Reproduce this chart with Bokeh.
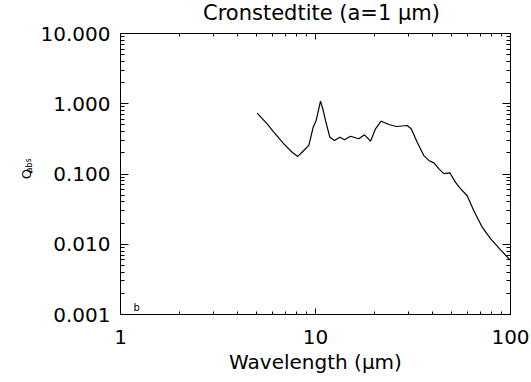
from bokeh.plotting import figure
from bokeh.models import (LogAxis, FixedTicker, Label, Range1d)
from bokeh.embed import file_html
from bokeh.resources import INLINE

# ---- data ----
wavelength = [5.02, 5.65, 6.11, 6.88, 7.59, 8.11, 8.71, 9.24, 9.45, 9.73, 10.08,
              10.35, 10.61, 10.9, 11.25, 11.84, 12.52, 13.32, 14.08, 15.12, 16.68,
              17.84, 19.15, 20.31, 21.73, 23.77, 26.03, 29.53, 30.96, 33.23, 35.93,
              38.11, 40.44, 42.88, 45.5, 48.84, 52.24, 55.4, 59.97, 64.85, 71.6,
              78.97, 88.9, 100.0]
qabs = [0.734, 0.518, 0.394, 0.269, 0.204, 0.178, 0.216, 0.255, 0.33, 0.464, 0.578,
        0.80, 1.087, 0.85, 0.578, 0.334, 0.300, 0.334, 0.307, 0.345, 0.317,
        0.361, 0.293, 0.440, 0.564, 0.507, 0.474, 0.490, 0.440, 0.284, 0.183,
        0.156, 0.144, 0.119, 0.101, 0.104, 0.076, 0.062, 0.049, 0.030, 0.0175,
        0.012, 0.0083, 0.0059]

x_ticks = [1, 10, 100]
x_tick_labels = ["1", "10", "100"]
x_minor = [2, 3, 4, 5, 6, 7, 8, 9, 20, 30, 40, 50, 60, 70, 80, 90]
y_ticks = [0.001, 0.01, 0.1, 1, 10]
y_tick_labels = ["0.001", "0.010", "0.100", "1.000", "10.000"]
y_minor = [m * d for d in [0.001, 0.01, 0.1, 1] for m in range(2, 10)]

title_text = "Cronstedtite (a=1 μm)"
x_label = "Wavelength (μm)"
y_label_main = "Q"
y_label_sub = "abs"
panel_letter = "b"

FONT = "DejaVu Sans"

p = figure(frame_width=390, frame_height=281, x_axis_type="log", y_axis_type="log",
           x_range=Range1d(1, 100), y_range=Range1d(0.001, 10), title=None,
           output_backend="svg", toolbar_location=None,
           min_border_left=120, min_border_right=21, min_border_top=33,
           min_border_bottom=68, background_fill_color="white",
           border_fill_color="white")
p.outline_line_color = None
p.xgrid.visible = False
p.ygrid.visible = False

xt = FixedTicker(ticks=x_ticks, minor_ticks=x_minor)
yt = FixedTicker(ticks=y_ticks, minor_ticks=y_minor)


def style_common(ax, major_in, minor_in):
    ax.axis_line_color = "black"
    ax.axis_line_width = 1
    ax.major_tick_in = major_in
    ax.major_tick_out = 0
    ax.minor_tick_in = minor_in
    ax.minor_tick_out = 0
    ax.major_tick_line_color = "black"
    ax.minor_tick_line_color = "black"


def hide_labels(ax):
    ax.major_label_text_font_size = "1px"
    ax.major_label_text_alpha = 0
    ax.major_label_standoff = 0


# bottom axis
xa = p.xaxis[0]
xa.ticker = xt
style_common(xa, 6, 3)
xa.major_label_overrides = dict(zip(x_ticks, x_tick_labels))
xa.major_label_text_font = FONT
xa.major_label_text_font_size = "20px"
xa.major_label_text_color = "black"
xa.major_label_standoff = 15
xa.axis_label = x_label
xa.axis_label_text_font = FONT
xa.axis_label_text_font_size = "20px"
xa.axis_label_text_font_style = "normal"
xa.axis_label_text_color = "black"
xa.axis_label_standoff = 3

# left axis, its label is the "Q"
ya = p.yaxis[0]
ya.ticker = yt
style_common(ya, 8, 4)
ya.major_label_overrides = dict(zip(y_ticks, y_tick_labels))
ya.major_label_text_font = FONT
ya.major_label_text_font_size = "20px"
ya.major_label_text_color = "black"
ya.major_label_standoff = 10
ya.axis_label = y_label_main
ya.axis_label_text_font = FONT
ya.axis_label_text_font_size = "13px"
ya.axis_label_text_font_style = "normal"
ya.axis_label_text_color = "black"
ya.axis_label_standoff = 4

# mirrored axes
top = LogAxis(ticker=xt)
style_common(top, 6, 3)
hide_labels(top)
p.add_layout(top, "above")
right = LogAxis(ticker=yt)
style_common(right, 8, 4)
hide_labels(right)
p.add_layout(right, "right")

p.line(wavelength, qabs, line_color="black", line_width=1.2)

# title as a label in the top panel
p.add_layout(Label(x=201, y=21, x_units="screen", y_units="screen", text=title_text,
                   text_align="center", text_baseline="alphabetic",
                   text_font=FONT, text_font_size="21px", text_color="black"),
             "above")

# subscript "abs" of the y label, in a side panel
p.add_layout(Label(x=22.5, y=149, x_units="screen", y_units="screen", text=y_label_sub,
                   angle=1.5708, text_align="center", text_baseline="alphabetic",
                   text_font=FONT, text_font_size="8px", text_color="black"),
             "left")

# panel letter inside the frame
p.add_layout(Label(x=13, y=7, x_units="screen", y_units="screen", text=panel_letter,
                   text_align="left", text_baseline="alphabetic",
                   text_font=FONT, text_font_size="10px", text_color="black"))

open("out.html", "w").write(file_html(p, INLINE))
